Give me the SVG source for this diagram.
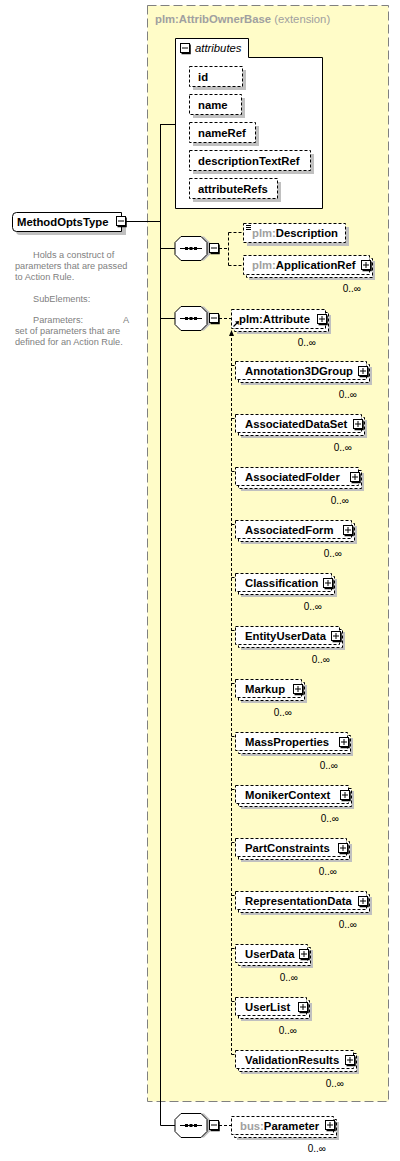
<svg xmlns="http://www.w3.org/2000/svg" xmlns:xlink="http://www.w3.org/1999/xlink" width="400" height="1161" viewBox="0 0 400 1161">
<style>
.t{font-family:"Liberation Sans",Arial,sans-serif;font-size:11.3px;font-weight:bold;fill:#000}
.pf{fill:#A0A0A0}
.it{font-family:"Liberation Sans",Arial,sans-serif;font-size:11.3px;font-style:italic;fill:#000}
.ttl{font-family:"Liberation Sans",Arial,sans-serif;font-size:11.3px;fill:#A0A0A0}
.occ{font-family:"Liberation Sans",Arial,sans-serif;font-size:10px;fill:#000;text-anchor:end}
.doc{font-family:"Liberation Sans",Arial,sans-serif;font-size:9.2px;fill:#808080}
.bx{fill:#fff;stroke:#000;stroke-width:1;stroke-dasharray:3,2}
.sh{fill:#C0C0C0}
.ln{stroke:#000;stroke-width:1;fill:none}
.dl{stroke:#000;stroke-width:1;fill:none;stroke-dasharray:3,2}
</style>
<defs>
<g id="plus"><path d="M10 1.5V10.5H1.5" stroke="#000" stroke-width="1.5" fill="none"/><rect x="0.5" y="0.5" width="9" height="9" fill="#fff" stroke="#000"/><path d="M2 5H8M5 2V8" stroke="#000"/></g>
<g id="minus"><path d="M10 1.5V10.5H1.5" stroke="#000" stroke-width="1.5" fill="none"/><rect x="0.5" y="0.5" width="9" height="9" fill="#fff" stroke="#000"/><path d="M2 5H8" stroke="#000"/></g>
<g id="seq">
<path d="M3 -6L9 -12H29L35 -6V6L29 12H9L3 6Z" fill="#C0C0C0"/>
<path d="M0 -9L6 -15H26L32 -9V3L26 9H6L0 3Z" transform="translate(0,3)" fill="#fff" stroke="#000"/>
<path d="M5 0H27" stroke="#000"/>
<rect x="10" y="-1.5" width="3" height="3"/><rect x="14.5" y="-1.5" width="3" height="3"/><rect x="19" y="-1.5" width="3" height="3"/>
</g>
</defs>

<rect id="extension" x="147.5" y="5.5" width="241" height="1096" fill="#FFFCC8" stroke="#808080" stroke-dasharray="9,4"/>
<text x="155" y="23" class="ttl"><tspan font-weight="bold">plm:AttribOwnerBase</tspan> (extension)</text>

<g id="connectors">
<path class="ln" d="M126 221.5H160.5M160.5 124V1125.5M160.5 124.5H175M160.5 248.5H175M160.5 318.5H175M160.5 1125.5H175"/>
<path class="dl" d="M219 248.5H228.5M228.5 232.5V265.5M228.5 232.5H243M228.5 265.5H243M219 318.5H231M219 1125.5H231"/>
<path class="dl" d="M231.5 338V1054.5"/>
<path d="M231.5 330L229 336H234Z" fill="#000"/>
<path class="dl" d="M231.5 365.5H235M231.5 418.5H235M231.5 471.5H235M231.5 524.5H235M231.5 577.5H235M231.5 630.5H235M231.5 683.5H235M231.5 736.5H235M231.5 789.5H235M231.5 842.5H235M231.5 895.5H235M231.5 948.5H235M231.5 1001.5H235M231.5 1054.5H235"/>
</g>

<g id="MethodOptsType">
<path d="M20 216H126V235H20Q16 235 16 231V220Q16 216 20 216Z" fill="#C0C0C0"/>
<path d="M16.5 212.5H121.5V231.5H16.5Q12.5 231.5 12.5 227.5V216.5Q12.5 212.5 16.5 212.5Z" fill="#fff" stroke="#000"/>
<text x="17" y="225.5" class="t">MethodOptsType</text>
<use xlink:href="#minus" x="116" y="216"/>
<text class="doc" x="33" y="258">Holds a construct of</text>
<text class="doc" x="15" y="269">parameters that are passed</text>
<text class="doc" x="15" y="280">to Action Rule.</text>
<text class="doc" x="33" y="302">SubElements:</text>
<text class="doc" x="33" y="323">Parameters:</text>
<text class="doc" x="123" y="323">A</text>
<text class="doc" x="15" y="334">set of parameters that are</text>
<text class="doc" x="15" y="345">defined for an Action Rule.</text>
</g>

<g id="attributes">
<path d="M175.5 38.5H248.5V57.5H322.5V208.5H175.5Z" fill="#fff" stroke="#000"/>
<use xlink:href="#minus" x="180" y="43"/>
<text x="195" y="52" class="it">attributes</text>
<g id="attr-id"><rect class="sh" x="193" y="70" width="53" height="20"/><rect class="bx" x="189.5" y="66.5" width="53" height="20"/><text x="198" y="80.5" class="t">id</text></g>
<g id="attr-name"><rect class="sh" x="193" y="98" width="52" height="20"/><rect class="bx" x="189.5" y="94.5" width="52" height="20"/><text x="198" y="108.5" class="t">name</text></g>
<g id="attr-nameRef"><rect class="sh" x="193" y="126" width="66" height="20"/><rect class="bx" x="189.5" y="122.5" width="66" height="20"/><text x="198" y="136.5" class="t">nameRef</text></g>
<g id="attr-descriptionTextRef"><rect class="sh" x="193" y="154" width="121" height="20"/><rect class="bx" x="189.5" y="150.5" width="121" height="20"/><text x="198" y="164.5" class="t">descriptionTextRef</text></g>
<g id="attr-attributeRefs"><rect class="sh" x="193" y="182" width="88" height="20"/><rect class="bx" x="189.5" y="178.5" width="88" height="20"/><text x="198" y="192.5" class="t">attributeRefs</text></g>
</g>

<g id="seq1"><use xlink:href="#seq" x="175" y="248.5"/><use xlink:href="#minus" x="209" y="243"/></g>
<g id="seq2"><use xlink:href="#seq" x="175" y="318.5"/><use xlink:href="#minus" x="209" y="313"/></g>
<g id="seq3"><use xlink:href="#seq" x="175" y="1125.5"/><use xlink:href="#minus" x="209" y="1120"/></g>

<g id="plm-Description">
<rect class="sh" x="247" y="227" width="102" height="19"/>
<rect class="bx" x="243.5" y="223.5" width="102" height="19"/>
<path d="M246 225.5H251M246 227.5H251M246 229.5H251" stroke="#000" stroke-width="1"/>
<text x="252" y="237" class="t"><tspan class="pf">plm:</tspan>Description</text>
</g>

<g id="plm-ApplicationRef">
<rect class="sh" x="249" y="261" width="126" height="19"/>
<rect class="bx" x="246.5" y="258.5" width="126" height="19"/>
<rect class="bx" x="243.5" y="255.5" width="126" height="19"/>
<text x="252" y="269" class="t"><tspan class="pf">plm:</tspan>ApplicationRef</text>
<use xlink:href="#plus" x="361" y="260"/>
<text class="occ" x="361" y="292">0..∞</text>
</g>

<g id="plm-Attribute">
<rect class="sh" x="237" y="315" width="94" height="19"/>
<rect class="bx" x="234.5" y="312.5" width="94" height="19"/>
<rect class="bx" x="231.5" y="309.5" width="94" height="19"/>
<text x="239" y="323" class="t">plm:Attribute</text>
<path d="M233.5 326.5L238 322" stroke="#000" stroke-width="1.2"/><path d="M239 321L235 321.5L238.5 325Z" fill="#000"/>
<use xlink:href="#plus" x="317" y="314"/>
<text class="occ" x="316" y="346">0..∞</text>
</g>

<g id="Annotation3DGroup"><rect class="sh" x="241" y="367" width="131" height="18"/><rect class="bx" x="238.5" y="364.5" width="131" height="18"/><rect class="bx" x="235.5" y="361.5" width="131" height="18"/><text x="245" y="375" class="t">Annotation3DGroup</text><use xlink:href="#plus" x="358" y="366"/><text class="occ" x="357" y="398">0..∞</text></g>
<g id="AssociatedDataSet"><rect class="sh" x="241" y="420" width="126" height="18"/><rect class="bx" x="238.5" y="417.5" width="126" height="18"/><rect class="bx" x="235.5" y="414.5" width="126" height="18"/><text x="245" y="428" class="t">AssociatedDataSet</text><use xlink:href="#plus" x="353" y="419"/><text class="occ" x="352" y="451">0..∞</text></g>
<g id="AssociatedFolder"><rect class="sh" x="241" y="473" width="123" height="18"/><rect class="bx" x="238.5" y="470.5" width="123" height="18"/><rect class="bx" x="235.5" y="467.5" width="123" height="18"/><text x="245" y="481" class="t">AssociatedFolder</text><use xlink:href="#plus" x="350" y="472"/><text class="occ" x="349" y="504">0..∞</text></g>
<g id="AssociatedForm"><rect class="sh" x="241" y="526" width="116" height="18"/><rect class="bx" x="238.5" y="523.5" width="116" height="18"/><rect class="bx" x="235.5" y="520.5" width="116" height="18"/><text x="245" y="534" class="t">AssociatedForm</text><use xlink:href="#plus" x="343" y="525"/><text class="occ" x="342" y="557">0..∞</text></g>
<g id="Classification"><rect class="sh" x="241" y="579" width="96" height="18"/><rect class="bx" x="238.5" y="576.5" width="96" height="18"/><rect class="bx" x="235.5" y="573.5" width="96" height="18"/><text x="245" y="587" class="t">Classification</text><use xlink:href="#plus" x="323" y="578"/><text class="occ" x="322" y="610">0..∞</text></g>
<g id="EntityUserData"><rect class="sh" x="241" y="632" width="104" height="18"/><rect class="bx" x="238.5" y="629.5" width="104" height="18"/><rect class="bx" x="235.5" y="626.5" width="104" height="18"/><text x="245" y="640" class="t">EntityUserData</text><use xlink:href="#plus" x="331" y="631"/><text class="occ" x="330" y="663">0..∞</text></g>
<g id="Markup"><rect class="sh" x="241" y="685" width="66" height="18"/><rect class="bx" x="238.5" y="682.5" width="66" height="18"/><rect class="bx" x="235.5" y="679.5" width="66" height="18"/><text x="245" y="693" class="t">Markup</text><use xlink:href="#plus" x="293" y="684"/><text class="occ" x="292" y="716">0..∞</text></g>
<g id="MassProperties"><rect class="sh" x="241" y="738" width="112" height="18"/><rect class="bx" x="238.5" y="735.5" width="112" height="18"/><rect class="bx" x="235.5" y="732.5" width="112" height="18"/><text x="245" y="746" class="t">MassProperties</text><use xlink:href="#plus" x="339" y="737"/><text class="occ" x="338" y="769">0..∞</text></g>
<g id="MonikerContext"><rect class="sh" x="241" y="791" width="113" height="18"/><rect class="bx" x="238.5" y="788.5" width="113" height="18"/><rect class="bx" x="235.5" y="785.5" width="113" height="18"/><text x="245" y="799" class="t">MonikerContext</text><use xlink:href="#plus" x="340" y="790"/><text class="occ" x="339" y="822">0..∞</text></g>
<g id="PartConstraints"><rect class="sh" x="241" y="844" width="111" height="18"/><rect class="bx" x="238.5" y="841.5" width="111" height="18"/><rect class="bx" x="235.5" y="838.5" width="111" height="18"/><text x="245" y="852" class="t">PartConstraints</text><use xlink:href="#plus" x="338" y="843"/><text class="occ" x="337" y="875">0..∞</text></g>
<g id="RepresentationData"><rect class="sh" x="241" y="897" width="131" height="18"/><rect class="bx" x="238.5" y="894.5" width="131" height="18"/><rect class="bx" x="235.5" y="891.5" width="131" height="18"/><text x="245" y="905" class="t">RepresentationData</text><use xlink:href="#plus" x="358" y="896"/><text class="occ" x="357" y="928">0..∞</text></g>
<g id="UserData"><rect class="sh" x="241" y="950" width="72" height="18"/><rect class="bx" x="238.5" y="947.5" width="72" height="18"/><rect class="bx" x="235.5" y="944.5" width="72" height="18"/><text x="245" y="958" class="t">UserData</text><use xlink:href="#plus" x="299" y="949"/><text class="occ" x="298" y="981">0..∞</text></g>
<g id="UserList"><rect class="sh" x="241" y="1003" width="71" height="18"/><rect class="bx" x="238.5" y="1000.5" width="71" height="18"/><rect class="bx" x="235.5" y="997.5" width="71" height="18"/><text x="245" y="1011" class="t">UserList</text><use xlink:href="#plus" x="298" y="1002"/><text class="occ" x="297" y="1034">0..∞</text></g>
<g id="ValidationResults"><rect class="sh" x="241" y="1056" width="118" height="18"/><rect class="bx" x="238.5" y="1053.5" width="118" height="18"/><rect class="bx" x="235.5" y="1050.5" width="118" height="18"/><text x="245" y="1064" class="t">ValidationResults</text><use xlink:href="#plus" x="345" y="1055"/><text class="occ" x="344" y="1087">0..∞</text></g>

<g id="bus-Parameter">
<rect class="sh" x="237" y="1122" width="102" height="18"/>
<rect class="bx" x="234.5" y="1119.5" width="102" height="18"/>
<rect class="bx" x="231.5" y="1116.5" width="102" height="18"/>
<text x="240" y="1130" class="t"><tspan class="pf">bus:</tspan>Parameter</text>
<use xlink:href="#plus" x="325" y="1120"/>
<text class="occ" x="326" y="1152">0..∞</text>
</g>
</svg>
